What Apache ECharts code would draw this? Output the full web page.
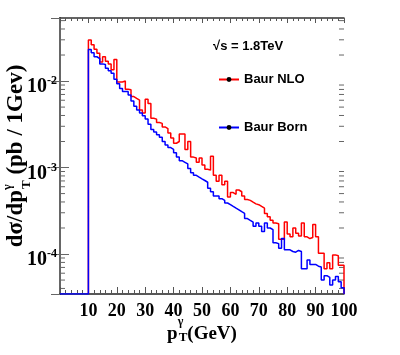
<!DOCTYPE html>
<html>
<head>
<meta charset="utf-8">
<script src="https://cdn.jsdelivr.net/npm/echarts@6/dist/echarts.min.js"></script>
<style>
html, body { margin: 0; padding: 0; background: #fff; }
#chart { width: 400px; height: 355px; }
</style>
</head>
<body>
<div id="chart"></div>
<script>
// histogram: 1 GeV bins starting at 10 GeV
const binStart = 10;
const binWidth = 1;
const xMin = 0;
const xMax = 100;
// log y range of the frame
const yMin = 3.45e-5;
const yMax = 5.36e-2;

const seriesNames = ['Baur NLO', 'Baur Born'];

// Baur NLO, bins 10..99 GeV
const nloValues = [
  2.98e-2, 2.63e-2, 2.34e-2, 2.09e-2, 1.66e-2, 1.91e-2, 1.70e-2, 1.58e-2, 1.35e-2, 1.78e-2,
  9.77e-3, 9.77e-3, 1.00e-2, 8.02e-3, 7.94e-3, 6.61e-3, 6.31e-3, 6.03e-3, 4.62e-3, 4.27e-3,
  6.17e-3, 5.50e-3, 3.72e-3, 3.63e-3, 3.31e-3, 3.24e-3, 2.95e-3, 2.82e-3, 2.51e-3, 2.19e-3,
  1.91e-3, 2.00e-3, 2.45e-3, 2.45e-3, 1.62e-3, 2.00e-3, 1.32e-3, 1.29e-3, 1.15e-3, 1.29e-3,
  1.07e-3, 9.55e-4, 9.33e-4, 1.35e-3, 8.13e-4, 6.92e-4, 8.13e-4, 6.31e-4, 6.92e-4, 4.57e-4,
  5.13e-4, 4.90e-4, 5.50e-4, 5.25e-4, 4.68e-4, 4.27e-4, 4.17e-4, 3.98e-4, 3.80e-4, 3.72e-4,
  3.55e-4, 3.39e-4, 2.95e-4, 2.69e-4, 2.45e-4, 2.29e-4, 2.24e-4, 1.48e-4, 1.48e-4, 2.34e-4,
  1.70e-4, 1.58e-4, 2.00e-4, 1.74e-4, 1.62e-4, 2.29e-4, 1.58e-4, 1.51e-4, 1.55e-4, 2.19e-4,
  1.58e-4, 1.02e-4, 1.02e-4, 6.76e-5, 7.94e-5, 6.76e-5, 9.77e-5, 9.55e-5, 7.41e-5, 7.41e-5
];

// Baur Born, bins 10..99 GeV
const bornValues = [
  2.32e-2, 2.12e-2, 1.91e-2, 1.82e-2, 1.58e-2, 1.55e-2, 1.41e-2, 1.32e-2, 1.23e-2, 1.05e-2,
  9.33e-3, 8.22e-3, 7.59e-3, 7.59e-3, 6.92e-3, 5.89e-3, 5.13e-3, 4.62e-3, 4.27e-3, 3.98e-3,
  3.63e-3, 3.16e-3, 2.75e-3, 2.57e-3, 2.40e-3, 2.24e-3, 2.00e-3, 1.82e-3, 1.70e-3, 1.62e-3,
  1.48e-3, 1.32e-3, 1.20e-3, 1.15e-3, 1.10e-3, 9.77e-4, 8.71e-4, 8.13e-4, 7.76e-4, 7.41e-4,
  7.08e-4, 6.76e-4, 5.75e-4, 5.25e-4, 4.68e-4, 4.68e-4, 4.37e-4, 4.17e-4, 3.89e-4, 3.72e-4,
  3.55e-4, 3.39e-4, 3.24e-4, 3.09e-4, 2.95e-4, 2.57e-4, 2.45e-4, 2.34e-4, 2.09e-4, 2.29e-4,
  2.09e-4, 1.82e-4, 2.29e-4, 2.00e-4, 1.91e-4, 1.35e-4, 1.32e-4, 1.17e-4, 1.51e-4, 1.12e-4,
  1.12e-4, 1.07e-4, 1.05e-4, 1.10e-4, 1.07e-4, 6.76e-5, 6.76e-5, 8.51e-5, 7.59e-5, 7.59e-5,
  7.24e-5, 7.08e-5, 5.01e-5, 5.62e-5, 5.37e-5, 4.37e-5, 5.01e-5, 5.50e-5, 4.79e-5, 4.07e-5
];

const serif = "'Liberation Serif', 'DejaVu Serif', serif";
const sans = "'Liberation Sans', Arial, sans-serif";
const axisGray = '#666';

// step outline of a histogram, falling to the frame bottom outside the bins
function histPoints(vals, fromLeftEdge) {
  const pts = fromLeftEdge ? [[xMin, yMin]] : [];
  const end = binStart + vals.length * binWidth;
  pts.push([binStart, yMin]);
  vals.forEach((v, i) => pts.push([binStart + i * binWidth, v]));
  pts.push([end, vals[vals.length - 1]]);
  pts.push([end, yMin]);
  return pts;
}

function powLabel(v) {
  const l = Math.log10(v);
  const e = Math.round(l);
  if (Math.abs(l - e) > 1e-6) return '';
  return '{b|10}{s|' + e + '}';
}

const chart = echarts.init(document.getElementById('chart'));

const option = {
  animation: false,
  backgroundColor: '#fff',
  grid: { left: 60, right: 56, top: 18, bottom: 61, containLabel: false, outerBoundsMode: 'none' },
  legend: {
    data: seriesNames,
    orient: 'vertical',
    left: 213,
    top: 68,
    itemWidth: 20,
    itemHeight: 6,
    itemGap: 35,
    textStyle: { fontFamily: sans, fontWeight: 'bold', fontSize: 13, color: '#000' }
  },
  xAxis: [
    {
      type: 'value', min: xMin, max: xMax, interval: 10, position: 'bottom',
      axisLine: { onZero: false, lineStyle: { color: '#222', width: 1.5 } },
      axisTick: { inside: true, length: 7, lineStyle: { color: '#555' } },
      minorTick: { show: true, splitNumber: 5, length: 4, lineStyle: { color: '#555' } },
      splitLine: { show: false },
      axisLabel: {
        margin: 8,
        formatter: v => (v === 0 ? '' : String(v)),
        fontFamily: serif, fontWeight: 'bold', fontSize: 18, color: '#000'
      },
      name: '{m|p}{sup|γ}{sub|T}{m|(GeV)}',
      nameLocation: 'middle',
      nameGap: 21,
      nameMoveOverlap: false,
      nameTextStyle: {
        color: '#000',
        rich: {
          m: { fontFamily: serif, fontWeight: 'bold', fontSize: 19, lineHeight: 38, align: 'left', verticalAlign: 'middle' },
          sup: { fontFamily: serif, fontWeight: 'bold', fontSize: 12, lineHeight: 12, padding: [1, 0, 25, 0], width: 1, align: 'left', verticalAlign: 'middle' },
          sub: { fontFamily: serif, fontWeight: 'bold', fontSize: 13, lineHeight: 13, padding: [16, 0, 9, 0], align: 'left', verticalAlign: 'middle' }
        }
      }
    },
    {
      type: 'value', min: xMin, max: xMax, interval: 10, position: 'top',
      axisLine: { onZero: false, lineStyle: { color: '#333', width: 1.5 } },
      axisTick: { inside: true, length: 5, lineStyle: { color: '#555' } },
      minorTick: { show: true, splitNumber: 5, length: 3, lineStyle: { color: '#555' } },
      splitLine: { show: false },
      axisLabel: { show: false }
    }
  ],
  yAxis: [
    {
      type: 'log', min: yMin, max: yMax, position: 'left',
      axisLine: { lineStyle: { color: axisGray, width: 2 } },
      axisTick: { inside: true, length: 9, lineStyle: { color: axisGray } },
      splitLine: { show: false },
      axisLabel: {
        margin: 3,
        showMinLabel: false,
        showMaxLabel: false,
        formatter: powLabel,
        padding: [12, 0, 0, 0],
        rich: {
          b: { fontFamily: serif, fontWeight: 'bold', fontSize: 20, lineHeight: 22, color: '#000', verticalAlign: 'middle' },
          s: { fontFamily: serif, fontWeight: 'bold', fontSize: 12, lineHeight: 12, padding: [0, 0, 12, 0], color: '#000', verticalAlign: 'middle' }
        }
      },
      name: '{m|dσ/dp}{sup|γ}{sub|T}{m| (pb / 1Gev)}',
      nameLocation: 'middle',
      nameRotate: 90,
      nameGap: 27,
      nameMoveOverlap: false,
      nameTextStyle: {
        color: '#000',
        rich: {
          m: { fontFamily: serif, fontWeight: 'bold', fontSize: 23, lineHeight: 34, align: 'left', verticalAlign: 'middle' },
          sup: { fontFamily: serif, fontWeight: 'bold', fontSize: 12, lineHeight: 12, padding: [3, 0, 19, 0], width: 1, align: 'left', verticalAlign: 'middle' },
          sub: { fontFamily: serif, fontWeight: 'bold', fontSize: 13, lineHeight: 13, padding: [21, 0, 0, 0], align: 'left', verticalAlign: 'middle' }
        }
      }
    },
    {
      type: 'log', min: yMin, max: yMax, position: 'right',
      axisLine: { lineStyle: { color: axisGray, width: 2 } },
      axisTick: { inside: true, length: 9, lineStyle: { color: axisGray } },
      splitLine: { show: false },
      axisLabel: { show: false }
    }
  ],
  series: [
    {
      name: seriesNames[0], type: 'line', step: 'end',
      data: histPoints(nloValues, false),
      showSymbol: false, symbol: 'circle',
      itemStyle: { color: '#000' },
      lineStyle: { color: '#ff0000', width: 1.5 }
    },
    {
      name: seriesNames[1], type: 'line', step: 'end',
      data: histPoints(bornValues, true),
      showSymbol: false, symbol: 'circle',
      itemStyle: { color: '#000' },
      lineStyle: { color: '#0000ff', width: 1.5 }
    }
  ],
  graphic: [
    {
      type: 'text', left: 213, top: 40,
      style: { text: '√s = 1.8TeV', font: 'bold 13px ' + sans, fill: '#000' }
    }
  ]
};

chart.setOption(option);

// minor ticks of the log axes (2..9 per decade), placed with the axis scale
const x0 = chart.convertToPixel({ xAxisIndex: 0 }, xMin);
const x1 = chart.convertToPixel({ xAxisIndex: 0 }, xMax);
const ticks = [];
for (let e = -5; e <= -1; e++) {
  for (let m = 2; m <= 9; m++) {
    const v = m * Math.pow(10, e);
    if (v <= yMin || v >= yMax) continue;
    const y = chart.convertToPixel({ yAxisIndex: 0 }, v);
    ticks.push({ type: 'line', shape: { x1: x0, y1: y, x2: x0 + 5, y2: y }, style: { stroke: axisGray, lineWidth: 1 } });
    ticks.push({ type: 'line', shape: { x1: x1 - 5, y1: y, x2: x1, y2: y }, style: { stroke: axisGray, lineWidth: 1 } });
  }
}
chart.setOption({ graphic: option.graphic.concat(ticks) });
</script>
</body>
</html>
